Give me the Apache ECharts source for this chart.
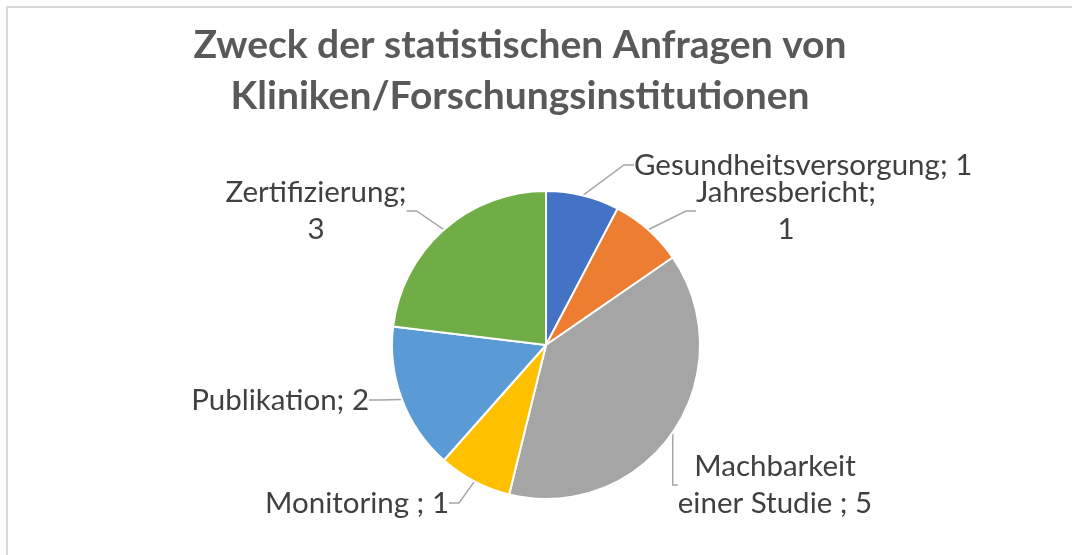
<!DOCTYPE html>
<html>
<head>
<meta charset="utf-8">
<script src="https://cdn.jsdelivr.net/npm/echarts@6/dist/echarts.min.js"></script>
<style>
  html, body { margin: 0; padding: 0; background: #fff; }
  #chart { width: 1072px; height: 555px; }
</style>
</head>
<body>
<div id="chart"></div>
<script>
var categories = ['Gesundheitsversorgung', 'Jahresbericht', 'Machbarkeit einer Studie', 'Monitoring', 'Publikation', 'Zertifizierung'];
var values = [1, 1, 5, 1, 2, 3];
var labelTexts = ['Gesundheitsversorgung; 1', 'Jahresbericht;\n1', 'Machbarkeit\neiner Studie ; 5', 'Monitoring ; 1', 'Publikation; 2', 'Zertifizierung;\n3'];
var colors = ['#4472C4', '#ED7D31', '#A5A5A5', '#FFC000', '#5B9BD5', '#70AD47'];

// where each label sits (x, y, align, verticalAlign)
var labelSpots = [
    [634, 165, 'left', 'middle'],
    [786, 211, 'center', 'middle'],
    [775, 485, 'center', 'middle'],
    [449, 503, 'right', 'middle'],
    [369, 400, 'right', 'middle'],
    [316, 211, 'center', 'middle']
];

var myChart = echarts.init(document.getElementById('chart'));

var option = {
    animation: false,
    color: colors,
    title: {
        text: 'Zweck der statistischen Anfragen von\nKliniken/Forschungsinstitutionen',
        left: 515,
        top: 15,
        textAlign: 'center',
        textStyle: {
            fontFamily: 'Lato',
            fontWeight: 'bold',
            fontSize: 39,
            lineHeight: 51,
            color: '#595959'
        }
    },
    graphic: [{
        type: 'rect',
        shape: { x: 7, y: 7, width: 1100, height: 600 },
        style: { fill: 'none', stroke: '#d9d9d9', lineWidth: 2 },
        silent: true
    }],
    series: [{
        type: 'pie',
        center: [546, 345],
        radius: [0, 154],
        startAngle: 90,
        data: categories.map(function(name, i) {
            return { name: name, value: values[i] };
        }),
        itemStyle: {
            borderColor: '#fff',
            borderWidth: 2
        },
        label: {
            show: true,
            formatter: function(params) {
                return labelTexts[params.dataIndex];
            },
            fontFamily: 'Lato',
            fontSize: 29.5,
            lineHeight: 37,
            color: '#404040'
        },
        labelLine: {
            show: true,
            length: 15,
            length2: 10,
            lineStyle: { color: '#a6a6a6', width: 1.5 }
        },
        labelLayout: function(params) {
            var s = labelSpots[params.dataIndex];
            return { x: s[0], y: s[1], align: s[2], verticalAlign: s[3] };
        }
    }]
};

myChart.setOption(option);
</script>
</body>
</html>
